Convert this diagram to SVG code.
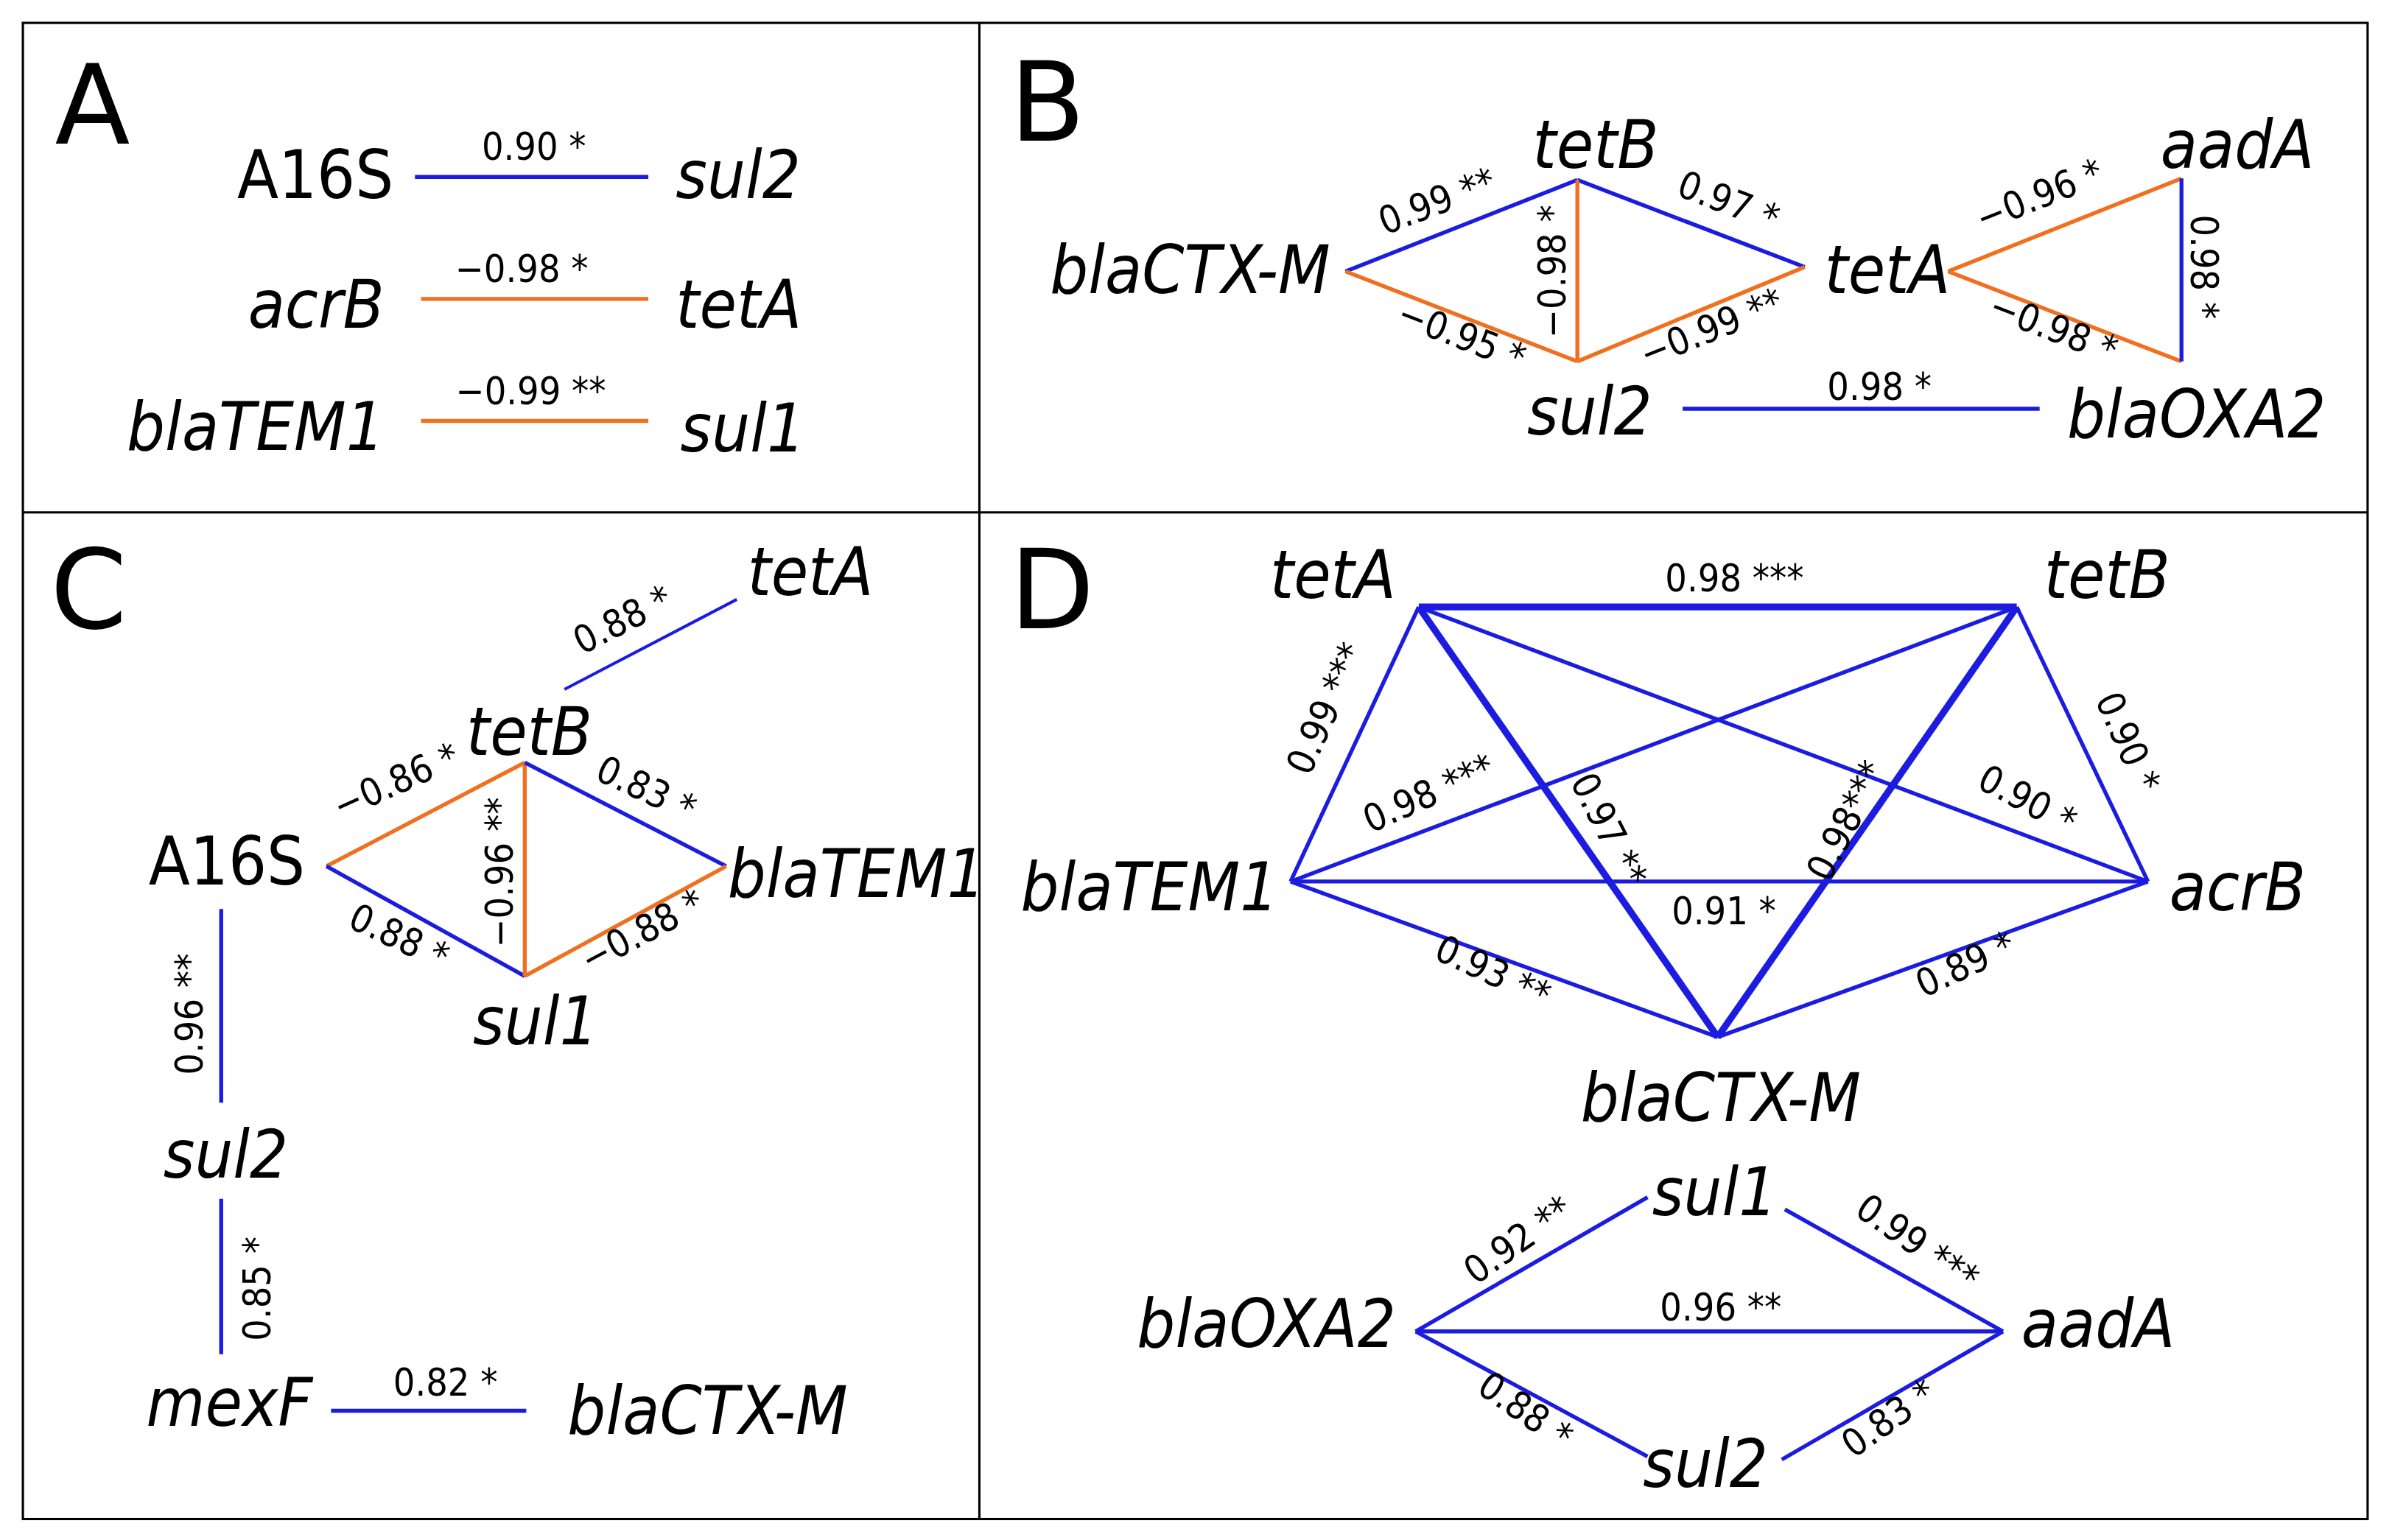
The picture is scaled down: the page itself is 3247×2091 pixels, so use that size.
<svg xmlns="http://www.w3.org/2000/svg" width="3247" height="2091" viewBox="0 0 3247 2091">
<style>
.n{font-family:"DejaVu Sans",sans-serif;font-stretch:condensed;font-style:italic;font-size:44px;fill:#000}
.u{font-style:normal}
.l{font-family:"Liberation Sans Narrow","DejaVu Sans Condensed","Liberation Sans",sans-serif;font-stretch:condensed;font-size:25px;fill:#000;text-anchor:middle}
.p{font-family:"DejaVu Sans",sans-serif;font-size:72px;fill:#000}
.b{stroke:#1c1ce0;stroke-width:2.6;fill:none}
.o{stroke:#f07020;stroke-width:2.6;fill:none}
.t{stroke-width:4.5}
.f{fill:none;stroke:#000;stroke-width:1.5}
</style>
<rect width="3247" height="2091" fill="#fff"/>
<g transform="scale(2.0708)">
<g id="frame"><rect class="f" x="15" y="15" width="1537" height="981"/><line class="f" x1="642" y1="15" x2="642" y2="996"/><line class="f" x1="15" y1="336" x2="1552" y2="336"/></g>
<text class="p" x="36" y="94">A</text><text class="p" x="662" y="92">B</text><text class="p" x="33" y="412">C</text><text class="p" x="662" y="412">D</text>
<g id="connectors">
<line class="b" x1="272" y1="116" x2="425" y2="116"/>
<line class="o" x1="276" y1="196" x2="425" y2="196"/>
<line class="o" x1="276" y1="276" x2="425" y2="276"/>
<line class="b" x1="882" y1="178" x2="1034" y2="118"/>
<line class="b" x1="1034" y1="118" x2="1183" y2="175"/>
<line class="o" x1="1034" y1="118" x2="1034" y2="237"/>
<line class="o" x1="882" y1="178" x2="1034" y2="237"/>
<line class="o" x1="1034" y1="237" x2="1183" y2="175"/>
<line class="o" x1="1277" y1="178" x2="1430" y2="117"/>
<line class="o" x1="1277" y1="178" x2="1430" y2="237"/>
<line class="b" x1="1430" y1="117" x2="1430" y2="237"/>
<line class="b" x1="1103" y1="268" x2="1337" y2="268"/>
<line class="b" x1="370" y1="452" x2="483" y2="393" style="stroke-width:2"/>
<line class="o" x1="214" y1="568" x2="344" y2="500"/>
<line class="b" x1="214" y1="568" x2="344" y2="640"/>
<line class="o" x1="344" y1="500" x2="344" y2="640"/>
<line class="b" x1="344" y1="500" x2="476" y2="568"/>
<line class="o" x1="344" y1="640" x2="476" y2="568"/>
<line class="b" x1="145" y1="596" x2="145" y2="723"/>
<line class="b" x1="145" y1="786" x2="145" y2="888"/>
<line class="b" x1="217" y1="925" x2="345" y2="925"/>
<line class="b t" x1="930" y1="398" x2="1322" y2="398"/>
<line class="b" x1="930" y1="398" x2="846" y2="578"/>
<line class="b" x1="930" y1="398" x2="1408" y2="578"/>
<line class="b t" x1="930" y1="398" x2="1126" y2="680"/>
<line class="b" x1="1322" y1="398" x2="846" y2="578"/>
<line class="b" x1="1322" y1="398" x2="1408" y2="578"/>
<line class="b t" x1="1322" y1="398" x2="1126" y2="680"/>
<line class="b" x1="846" y1="578" x2="1408" y2="578"/>
<line class="b" x1="846" y1="578" x2="1126" y2="680"/>
<line class="b" x1="1408" y1="578" x2="1126" y2="680"/>
<line class="b" x1="928" y1="873" x2="1080" y2="785"/>
<line class="b" x1="1170" y1="793" x2="1313" y2="873"/>
<line class="b" x1="928" y1="873" x2="1313" y2="873"/>
<line class="b" x1="928" y1="873" x2="1080" y2="955"/>
<line class="b" x1="1168" y1="957" x2="1313" y2="873"/>
</g>
<g id="edge-labels">
<text class="l" x="350" y="105">0.90 *</text>
<text class="l" x="342" y="185">−0.98 *</text>
<text class="l" x="348" y="265">−0.99 **</text>
<text class="l" transform="translate(945,140) rotate(-21)">0.99 **</text>
<text class="l" transform="translate(1130,140) rotate(21)">0.97 *</text>
<text class="l" transform="translate(1026,178) rotate(-90)">−0.98 *</text>
<text class="l" transform="translate(955,228) rotate(21)">−0.95 *</text>
<text class="l" transform="translate(1125,223) rotate(-22)">−0.99 **</text>
<text class="l" transform="translate(1340,136) rotate(-22)">−0.96 *</text>
<text class="l" transform="translate(1343,223) rotate(21)">−0.98 *</text>
<text class="l" transform="translate(1436,175) rotate(90)">0.98 *</text>
<text class="l" x="1232" y="262">0.98 *</text>
<text class="l" transform="translate(412,414) rotate(-27)">0.88 *</text>
<text class="l" transform="translate(263,520) rotate(-24)">−0.86 *</text>
<text class="l" transform="translate(258,622) rotate(25)">0.88 *</text>
<text class="l" transform="translate(336,572) rotate(-90)">−0.96 **</text>
<text class="l" transform="translate(420,525) rotate(25)">0.83 *</text>
<text class="l" transform="translate(425,618) rotate(-28)">−0.88 *</text>
<text class="l" transform="translate(133,665) rotate(-90)">0.96 **</text>
<text class="l" transform="translate(177,845) rotate(-90)">0.85 *</text>
<text class="l" x="292" y="915">0.82 *</text>
<text class="l" x="1137" y="388">0.98 ***</text>
<text class="l" transform="translate(877,468) rotate(-66)">0.99 ***</text>
<text class="l" transform="translate(1325,532) rotate(28)">0.90 *</text>
<text class="l" transform="translate(1047,548) rotate(63)">0.97 **</text>
<text class="l" transform="translate(940,528) rotate(-24)">0.98 ***</text>
<text class="l" transform="translate(1387,490) rotate(66)">0.90 *</text>
<text class="l" transform="translate(1218,542) rotate(-63)">0.98***</text>
<text class="l" x="1130" y="606">0.91 *</text>
<text class="l" transform="translate(975,645) rotate(25)">0.93 **</text>
<text class="l" transform="translate(1292,640) rotate(-25)">0.89 *</text>
<text class="l" transform="translate(1000,820) rotate(-35)">0.92 **</text>
<text class="l" transform="translate(1252,822) rotate(35)">0.99 ***</text>
<text class="l" x="1128" y="866">0.96 **</text>
<text class="l" transform="translate(995,932) rotate(35)">0.88 *</text>
<text class="l" transform="translate(1243,937) rotate(-35)">0.83 *</text>
</g>
<g id="A-A16S"><text class="n u" x="258" y="130" text-anchor="end">A16S</text></g>
<g id="A-sul2"><text class="n" x="443" y="130">sul2</text></g>
<g id="A-acrB"><text class="n" x="252" y="215" text-anchor="end">acrB</text></g>
<g id="A-tetA"><text class="n" x="443" y="215">tetA</text></g>
<g id="A-blaTEM1"><text class="n" x="252" y="295" text-anchor="end">blaTEM1</text></g>
<g id="A-sul1"><text class="n" x="446" y="296">sul1</text></g>
<g id="B-blaCTX-M"><text class="n" x="872" y="192" text-anchor="end">blaCTX-M</text></g>
<g id="B-tetB"><text class="n" x="1046" y="110" text-anchor="middle">tetB</text></g>
<g id="B-sul2"><text class="n" x="1042" y="285" text-anchor="middle">sul2</text></g>
<g id="B-tetA"><text class="n" x="1196" y="192">tetA</text></g>
<g id="B-aadA"><text class="n" x="1517" y="110" text-anchor="end">aadA</text></g>
<g id="B-blaOXA2"><text class="n" x="1355" y="287">blaOXA2</text></g>
<g id="C-tetA"><text class="n" x="490" y="390">tetA</text></g>
<g id="C-tetB"><text class="n" x="347" y="495" text-anchor="middle">tetB</text></g>
<g id="C-A16S"><text class="n u" x="200" y="580" text-anchor="end">A16S</text></g>
<g id="C-blaTEM1"><text class="n" x="477" y="588">blaTEM1</text></g>
<g id="C-sul1"><text class="n" x="351" y="685" text-anchor="middle">sul1</text></g>
<g id="C-sul2"><text class="n" x="148" y="772" text-anchor="middle">sul2</text></g>
<g id="C-mexF"><text class="n" x="205" y="935" text-anchor="end">mexF</text></g>
<g id="C-blaCTX-M"><text class="n" x="372" y="940">blaCTX-M</text></g>
<g id="D-tetA"><text class="n" x="915" y="392" text-anchor="end">tetA</text></g>
<g id="D-tetB"><text class="n" x="1340" y="392">tetB</text></g>
<g id="D-blaTEM1"><text class="n" x="838" y="597" text-anchor="end">blaTEM1</text></g>
<g id="D-acrB"><text class="n" x="1422" y="597">acrB</text></g>
<g id="D-blaCTX-M"><text class="n" x="1128" y="735" text-anchor="middle">blaCTX-M</text></g>
<g id="D-sul1"><text class="n" x="1124" y="797" text-anchor="middle">sul1</text></g>
<g id="D-blaOXA2"><text class="n" x="915" y="883" text-anchor="end">blaOXA2</text></g>
<g id="D-aadA"><text class="n" x="1325" y="883">aadA</text></g>
<g id="D-sul2"><text class="n" x="1118" y="975" text-anchor="middle">sul2</text></g>
</g>
</svg>
